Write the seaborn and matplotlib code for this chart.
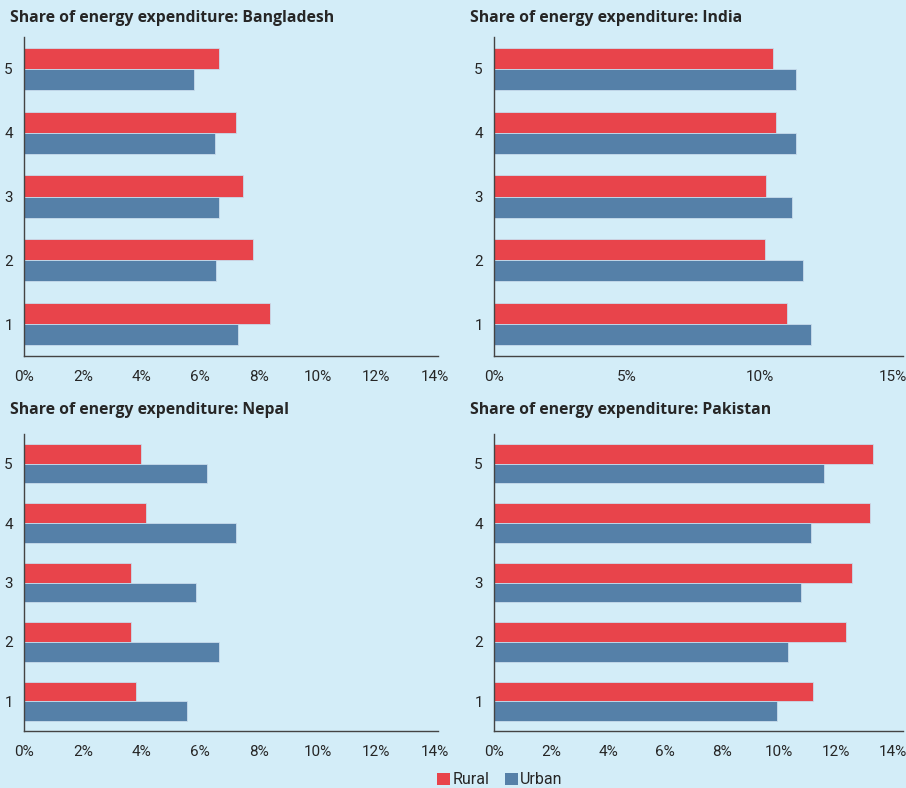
import pandas as pd
import matplotlib
matplotlib.use("Agg")
import matplotlib.pyplot as plt
import seaborn as sns
from matplotlib.ticker import PercentFormatter
from matplotlib.patches import Patch

# quintiles, top to bottom
quintiles = ["5", "4", "3", "2", "1"]
countries = ["Bangladesh", "India", "Nepal", "Pakistan"]

bangladesh_rural = [6.64, 7.21, 7.47, 7.81, 8.38]
bangladesh_urban = [5.78, 6.5, 6.64, 6.55, 7.29]
india_rural = [10.48, 10.6, 10.22, 10.17, 11.0]
india_urban = [11.34, 11.34, 11.19, 11.6, 11.93]
nepal_rural = [3.97, 4.17, 3.63, 3.63, 3.8]
nepal_urban = [6.24, 7.22, 5.86, 6.64, 5.56]
pakistan_rural = [13.31, 13.2, 12.57, 12.36, 11.18]
pakistan_urban = [11.59, 11.11, 10.76, 10.31, 9.94]

x_max = {"Bangladesh": 14, "India": 15, "Nepal": 14, "Pakistan": 14}
x_step = {"Bangladesh": 2, "India": 5, "Nepal": 2, "Pakistan": 2}
x_lim = {"Bangladesh": 14.1, "India": 15.37, "Nepal": 14.1, "Pakistan": 14.35}

rows = []
series = {
    "Bangladesh": (bangladesh_rural, bangladesh_urban),
    "India": (india_rural, india_urban),
    "Nepal": (nepal_rural, nepal_urban),
    "Pakistan": (pakistan_rural, pakistan_urban),
}
for c, (rur, urb) in series.items():
    for q, r, u in zip(quintiles, rur, urb):
        rows.append({"Country": c, "Quintile": q, "Area": "Rural", "Share": r})
        rows.append({"Country": c, "Quintile": q, "Area": "Urban", "Share": u})
df = pd.DataFrame(rows)

bg = "#d3edf8"
red = "#e8444b"
blue = "#5580a8"
text_col = "#262626"
tick_font = ["Roboto", "DejaVu Sans"]

plt.rcParams["font.family"] = ["Open Sans", "DejaVu Sans"]

fig = plt.figure(figsize=(9.06, 7.88), dpi=100, facecolor=bg)
W, H = 906, 788
boxes = {
    "Bangladesh": (24, 37, 438, 356),
    "India": (494, 37, 903, 356),
    "Nepal": (24, 434, 438, 731),
    "Pakistan": (494, 434, 903, 731),
}
title_pos = {"Bangladesh": (10, 18), "India": (470, 18), "Nepal": (10, 410), "Pakistan": (470, 410)}

for c in countries:
    x0, y0, x1, y1 = boxes[c]
    ax = fig.add_axes([x0 / W, 1 - y1 / H, (x1 - x0) / W, (y1 - y0) / H])
    ax.set_facecolor(bg)
    sub = df[df["Country"] == c]
    sns.barplot(data=sub, x="Share", y="Quintile", hue="Area", order=quintiles,
                hue_order=["Rural", "Urban"], palette=[red, blue], orient="h",
                saturation=1, width=0.66, edgecolor="#c8dcec", linewidth=0.6,
                legend=False, ax=ax)
    ax.set_xlim(0, x_lim[c])
    ax.set_ylim(4.5, -0.5)
    ax.set_xticks(range(0, x_max[c] + 1, x_step[c]))
    ax.xaxis.set_major_formatter(PercentFormatter(decimals=0))
    ax.set_xlabel("")
    ax.set_ylabel("")
    for s in ["top", "right"]:
        ax.spines[s].set_visible(False)
    for s in ["left", "bottom"]:
        ax.spines[s].set_color("#444444")
        ax.spines[s].set_linewidth(1.0)
    ax.tick_params(axis="x", length=0, pad=10, labelsize=11, labelcolor=text_col)
    ax.tick_params(axis="y", length=0, pad=8, labelsize=11, labelcolor=text_col)
    for lab in ax.get_xticklabels() + ax.get_yticklabels():
        lab.set_family(tick_font)
    ax.grid(False)
    tx, ty = title_pos[c]
    fig.text(tx / W, 1 - ty / H, f"Share of energy expenditure: {c}", fontsize=11.3,
             fontweight="bold", color=text_col, ha="left", va="center")

handles = [Patch(facecolor=red, label="Rural"), Patch(facecolor=blue, label="Urban")]
fig.legend(handles=handles, loc="center", bbox_to_anchor=(500 / W, 1 - 780 / H), ncol=2,
           frameon=False, handlelength=0.8, handleheight=0.8,
           handletextpad=0.15, columnspacing=1.0, labelcolor=text_col,
           prop={"family": tick_font, "size": 11.5})

fig.savefig("out.png", dpi=100, facecolor=bg)
